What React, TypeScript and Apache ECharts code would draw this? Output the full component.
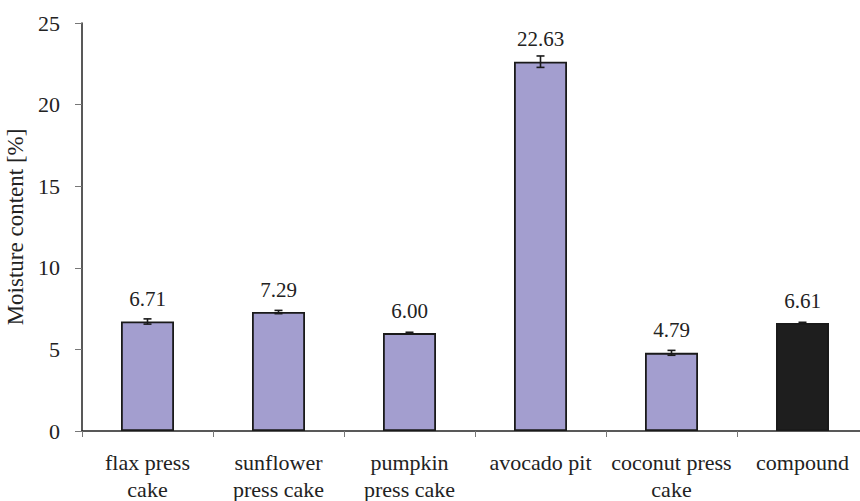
import React, { useEffect, useRef } from "react";
import * as echarts from "echarts";

const categories = [
  "flax press\ncake",
  "sunflower\npress cake",
  "pumpkin\npress cake",
  "avocado pit",
  "coconut press\ncake",
  "compound",
];
const values = [6.71, 7.29, 6.0, 22.63, 4.79, 6.61];
const errors = [0.16, 0.1, 0.05, 0.35, 0.15, 0.05];
const barColors = ["#a39ecf", "#a39ecf", "#a39ecf", "#a39ecf", "#a39ecf", "#1e1e1e"];
const yTicks = { min: 0, max: 25, interval: 5 };

const FONT = "'Liberation Serif', 'DejaVu Serif', serif";

export default function App() {
  const ref = useRef<HTMLDivElement>(null);
  useEffect(() => {
    if (!ref.current) return;
    const chart = echarts.init(ref.current, null, { renderer: "svg" });
    chart.setOption({
      animation: false,
      textStyle: { fontFamily: FONT },
      grid: { left: 82, right: -8, top: 23, bottom: 70, outerBoundsMode: "none", containLabel: false },
      xAxis: {
        type: "category",
        data: categories,
        axisLine: { lineStyle: { color: "#222", width: 1.5 } },
        axisTick: { show: true, length: 6, lineStyle: { color: "#777" } },
        axisLabel: {
          color: "#222",
          fontSize: 22,
          fontFamily: FONT,
          margin: 18,
          lineHeight: 27,
          interval: 0,
        },
      },
      yAxis: {
        type: "value",
        min: yTicks.min,
        max: yTicks.max,
        interval: yTicks.interval,
        name: "Moisture content [%]",
        nameLocation: "middle",
        nameGap: 55,
        nameMoveOverlap: false,
        nameRotate: 90,
        nameTextStyle: { color: "#222", fontSize: 23, fontFamily: FONT },
        axisLine: { show: true, lineStyle: { color: "#222", width: 1.5 } },
        axisTick: { show: true, length: 7, lineStyle: { color: "#777" } },
        axisLabel: { color: "#222", fontSize: 22, fontFamily: FONT, margin: 22 },
        splitLine: { show: false },
      },
      series: [
        {
          type: "bar",
          barWidth: 53,
          data: values.map((v, i) => ({
            value: v,
            itemStyle: { color: barColors[i] },
          })),
          itemStyle: { borderColor: "#1a1a1a", borderWidth: 1.8 },
          label: {
            show: true,
            position: "top",
            distance: 12,
            color: "#222",
            fontSize: 21,
            fontFamily: FONT,
            formatter: (p: any) => Number(p.value).toFixed(2),
          },
          z: 2,
        },
        {
          type: "custom",
          data: values.map((v, i) => [i, v - errors[i], v + errors[i]]),
          renderItem: (params: any, api: any) => {
            const x = api.value(0);
            const lo = api.coord([x, api.value(1)]);
            const hi = api.coord([x, api.value(2)]);
            const hw = 4;
            const style = { stroke: "#1a1a1a", lineWidth: 1.6, fill: "none" };
            return {
              type: "group",
              children: [
                { type: "line", shape: { x1: lo[0], y1: lo[1], x2: hi[0], y2: hi[1] }, style },
                { type: "line", shape: { x1: lo[0] - hw, y1: lo[1], x2: lo[0] + hw, y2: lo[1] }, style },
                { type: "line", shape: { x1: hi[0] - hw, y1: hi[1], x2: hi[0] + hw, y2: hi[1] }, style },
              ],
            };
          },
          z: 3,
        },
      ],
    });
    return () => chart.dispose();
  }, []);
  return (
    <div
      ref={ref}
      style={{ position: "absolute", left: 0, top: 0, width: 860, height: 501, background: "#fff" }}
    />
  );
}
